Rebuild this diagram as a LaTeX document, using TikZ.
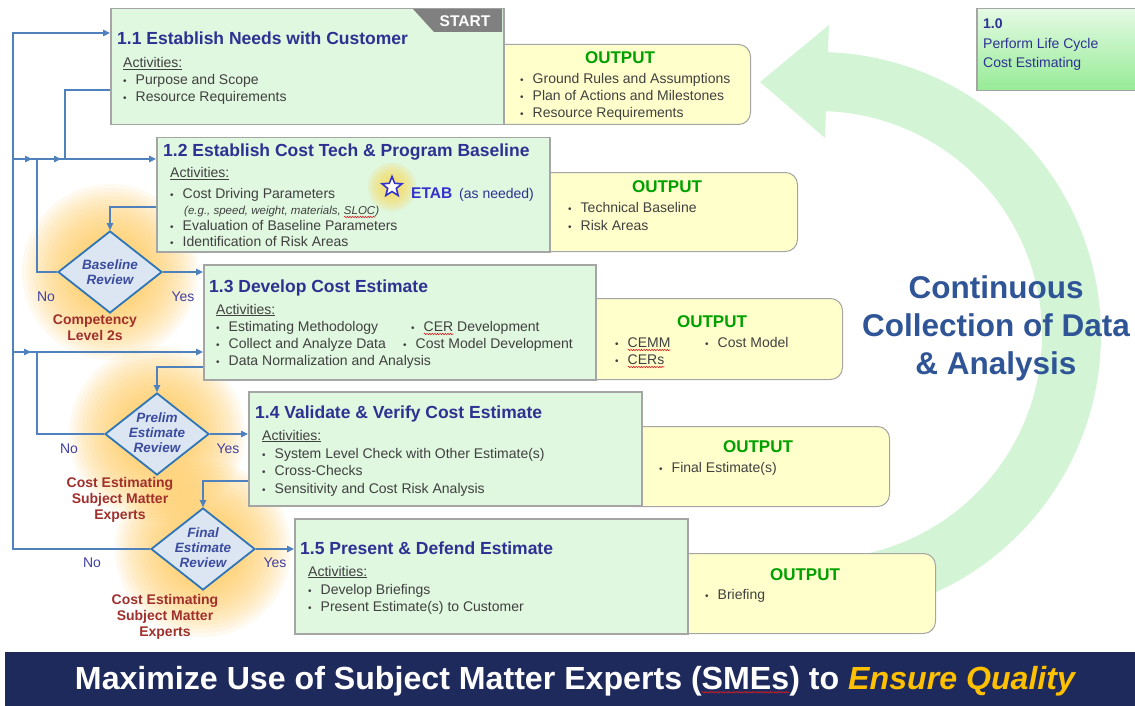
\documentclass[tikz,border=0pt]{standalone}
\usepackage{fontspec}
\setmainfont{Liberation Sans}
\usepackage{graphicx}
\usetikzlibrary{shapes.geometric,arrows.meta,calc,decorations.pathmorphing}
\definecolor{boxfill}{RGB}{224,247,224}
\definecolor{boxline}{RGB}{165,165,165}
\definecolor{outfill}{RGB}{255,255,204}
\definecolor{ttl}{RGB}{46,49,146}
\definecolor{bodyc}{RGB}{64,64,64}
\definecolor{outg}{RGB}{0,160,0}
\definecolor{flowc}{RGB}{79,129,189}
\definecolor{diafill}{RGB}{220,230,242}
\definecolor{diaedge}{RGB}{46,117,182}
\definecolor{diatc}{RGB}{59,76,160}
\definecolor{redc}{RGB}{160,48,44}
\definecolor{ync}{RGB}{64,64,160}
\definecolor{bandc}{RGB}{211,245,214}
\definecolor{navyc}{RGB}{31,42,92}
\definecolor{goldc}{RGB}{255,192,0}
\definecolor{contc}{RGB}{47,85,151}
\definecolor{glowc}{RGB}{255,196,80}
\definecolor{starg}{RGB}{255,215,70}
\definecolor{startc}{RGB}{128,128,128}
\definecolor{etabc}{RGB}{51,51,204}
\definecolor{topg}{RGB}{228,250,228}
\definecolor{botg}{RGB}{150,235,150}
\definecolor{spellc}{RGB}{220,30,30}
\newlength{\rwlen}
\newcommand{\redwave}[1]{\settowidth{\rwlen}{#1}\makebox[0pt][l]{#1}\tikz[baseline=0pt]{\useasboundingbox (0pt,0pt) rectangle (\rwlen,0.1pt);\draw[spellc, line width=0.6pt, decorate, decoration={snake, amplitude=0.7pt, segment length=2.6pt}] (0pt,-3pt) -- (\rwlen,-3pt);}}
\newcommand{\mybul}{{\fontsize{10}{10}\selectfont\textbullet}\hspace{9pt}}
\tikzset{
  stepbox/.style={draw=boxline, line width=1.5pt, fill=boxfill, anchor=north west, inner sep=0pt, minimum width=393pt},
  outbox/.style={draw=boxline, line width=1pt, fill=outfill, rounded corners=12pt, anchor=north west, inner sep=0pt, minimum height=80pt},
  ttlf/.style={anchor=base west, inner sep=0pt, text=ttl, font=\fontsize{17.5}{20}\selectfont\bfseries},
  txt/.style={anchor=base west, inner sep=0pt, text=bodyc, font=\fontsize{14}{16}\selectfont},
  outt/.style={anchor=base, inner sep=0pt, text=outg, font=\fontsize{17}{20}\selectfont\bfseries},
  dia/.style={diamond, draw=diaedge, fill=diafill, line width=1.8pt, minimum width=104pt, minimum height=82pt, inner sep=0pt},
  diat/.style={align=center, inner sep=0pt, text=diatc, font=\fontsize{13.5}{15}\selectfont\bfseries\itshape},
  sme/.style={align=center, inner sep=0pt, text=redc, font=\fontsize{14}{16}\selectfont\bfseries},
  yn/.style={inner sep=0pt, text=ync, font=\fontsize{14}{16}\selectfont},
  flow/.style={draw=flowc, line width=1.2pt},
  arr/.style={-{Triangle[length=7pt,width=6.5pt]}},
}
\begin{document}
\begin{tikzpicture}[x=1pt,y=-1pt]
\useasboundingbox (0,0) rectangle (1135,706);
% glows
\foreach \cx/\cy in {110/272,157/434,203/549}{
  \foreach \r in {88,84,...,32}{
    \fill[glowc, opacity=0.085] (\cx,\cy) circle[radius=\r];
  }
}
% continuous band
\fill[bandc] plot[domain=-88:88,samples=90] ({818+283*cos(\x)},{335-283*sin(\x)})
  -- (829,25) -- (760,82) -- (825,138)
  -- plot[domain=88:-88,samples=90] ({818+224*cos(\x)},{335-224*sin(\x)}) -- cycle;
\node[align=center, inner sep=0pt, text=contc, font=\fontsize{31.5}{38}\selectfont\bfseries] (cont) at (996,328) {Continuous\\Collection of Data\\\& Analysis};
% 1.0 box
\node[draw=boxline, line width=1.5pt, top color=topg, bottom color=botg, anchor=north west, minimum width=159pt, minimum height=82pt, inner sep=0pt] (b10) at (976,8) {};
\node[anchor=base west, inner sep=0pt, text=ttl, font=\fontsize{14}{16}\selectfont\bfseries] (t10a) at (983,29) {1.0};
\node[anchor=base west, inner sep=0pt, text=ttl, font=\fontsize{14}{16}\selectfont] (t10b) at (983,49) {Perform Life Cycle};
\node[anchor=base west, inner sep=0pt, text=ttl, font=\fontsize{14}{16}\selectfont] (t10c) at (983,68) {Cost Estimating};
% output boxes
\node[outbox, minimum width=270pt] (o1) at (480,44) {};
\node[outbox, minimum width=267pt, minimum height=79pt] (o2) at (530,172) {};
\node[outbox, minimum width=267pt, minimum height=81pt] (o3) at (575,298) {};
\node[outbox, minimum width=269pt] (o4) at (620,426) {};
\node[outbox, minimum width=270pt] (o5) at (665,553) {};
% step boxes
\node[stepbox, minimum height=116pt] (b11) at (110,8) {};
\node[stepbox, minimum height=114pt] (b12) at (156,137) {};
\node[stepbox, minimum width=392pt, minimum height=115pt] (b13) at (203,264) {};
\node[stepbox, minimum height=114pt] (b14) at (248,391) {};
\node[stepbox, minimum height=115pt] (b15) at (294,518) {};
% START tab
\fill[startc] (413,9) -- (502,9) -- (502,32) -- (434,32) -- cycle;
\node[inner sep=0pt, text=white, font=\fontsize{15.5}{18}\selectfont\bfseries] (start) at (465,21) {START};
% 1.1
\node[ttlf] (t11) at (117,45) {1.1 Establish Needs with Customer};
\node[txt] (a11) at (123,68) {\underline{Activities:}};
\node[txt] (r11a) at (123,85) {\mybul Purpose and Scope};
\node[txt] (r11b) at (123,102) {\mybul Resource Requirements};
\node[outt] (ot1) at (620,64) {OUTPUT};
\node[txt] (p1a) at (520,84) {\mybul Ground Rules and Assumptions};
\node[txt] (p1b) at (520,101) {\mybul Plan of Actions and Milestones};
\node[txt] (p1c) at (520,118) {\mybul Resource Requirements};
% 1.2
\node[ttlf] (t12) at (163,157) {1.2 Establish Cost Tech \& Program Baseline};
\node[txt] (a12) at (170,178) {\underline{Activities:}};
\node[txt] (r12a) at (170,198) {\mybul Cost Driving Parameters};
\node[txt, font=\fontsize{11.5}{13}\selectfont\itshape] (r12b) at (184,214) {(e.g., speed, weight, materials, \redwave{SLOC})};
\node[txt] (r12c) at (170,230) {\mybul Evaluation of Baseline Parameters};
\node[txt] (r12d) at (170,246) {\mybul Identification of Risk Areas};
\foreach \r in {24,21,...,9}{
  \fill[starg, opacity=0.16] (392,187) circle[radius=\r];
}
\node[star, star points=5, star point ratio=2.3, draw=etabc, fill=white, line width=1.6pt, minimum size=21pt, inner sep=0pt] (star) at (392,187) {};
\node[anchor=base west, inner sep=0pt, text=etabc, font=\fontsize{15.5}{18}\selectfont\bfseries] (etab) at (411,198) {ETAB};
\node[anchor=base west, inner sep=0pt, text=ttl, font=\fontsize{14}{16}\selectfont] (asn) at (459,198) {(as needed)};
\node[outt] (ot2) at (667,192) {OUTPUT};
\node[txt] (p2a) at (568,212) {\mybul Technical Baseline};
\node[txt] (p2b) at (568,230) {\mybul Risk Areas};
% 1.3
\node[ttlf] (t13) at (209,292) {1.3 Develop Cost Estimate};
\node[txt] (a13) at (216,314) {\underline{Activities:}};
\node[txt] (r13a) at (216,331) {\mybul Estimating Methodology};
\node[txt] (r13b) at (411,331) {\mybul \redwave{CER} Development};
\node[txt] (r13c) at (216,348) {\mybul Collect and Analyze Data};
\node[txt] (r13d) at (403,348) {\mybul Cost Model Development};
\node[txt] (r13e) at (216,365) {\mybul Data Normalization and Analysis};
\node[outt] (ot3) at (712,327) {OUTPUT};
\node[txt] (p3a) at (615,347) {\mybul \redwave{CEMM}};
\node[txt] (p3b) at (705,347) {\mybul Cost Model};
\node[txt] (p3c) at (615,364) {\mybul \redwave{CERs}};
% 1.4
\node[ttlf] (t14) at (255,418) {1.4 Validate \& Verify Cost Estimate};
\node[txt] (a14) at (262,440) {\underline{Activities:}};
\node[txt] (r14a) at (262,458) {\mybul System Level Check with Other Estimate(s)};
\node[txt] (r14b) at (262,475) {\mybul Cross-Checks};
\node[txt] (r14c) at (262,493) {\mybul Sensitivity and Cost Risk Analysis};
\node[outt] (ot4) at (758,452) {OUTPUT};
\node[txt] (p4a) at (659,472) {\mybul Final Estimate(s)};
% 1.5
\node[ttlf] (t15) at (300,554) {1.5 Present \& Defend Estimate};
\node[txt] (a15) at (308,576) {\underline{Activities:}};
\node[txt] (r15a) at (308,594) {\mybul Develop Briefings};
\node[txt] (r15b) at (308,611) {\mybul Present Estimate(s) to Customer};
\node[outt] (ot5) at (805,580) {OUTPUT};
\node[txt] (p5a) at (705,599) {\mybul Briefing};
% diamonds
\node[dia] (d1) at (110,272) {};
\node[dia] (d2) at (157,434) {};
\node[dia] (d3) at (203,549) {};
\node[diat] (d1t) at (110,272) {Baseline\\Review};
\node[diat] (d2t) at (157,433) {Prelim\\Estimate\\Review};
\node[diat] (d3t) at (203,548) {Final\\Estimate\\Review};
\node[yn] (no1) at (46,297) {No};
\node[yn] (yes1) at (183,297) {Yes};
\node[yn] (no2) at (69,449) {No};
\node[yn] (yes2) at (228,449) {Yes};
\node[yn] (no3) at (92,563) {No};
\node[yn] (yes3) at (275,563) {Yes};
\node[sme] (s1) at (95,328) {Competency\\Level 2s};
\node[sme] (s2) at (120,500) {Cost Estimating\\Subject Matter\\Experts};
\node[sme] (s3) at (165,617) {Cost Estimating\\Subject Matter\\Experts};
% connector points
\coordinate (in11) at (110,33);
\coordinate (out11) at (110,90);
\coordinate (in12) at (156,159);
\coordinate (out12) at (156,207);
\coordinate (in13) at (203,352);
\coordinate (out13) at (203,367);
\coordinate (out14) at (248,481);
% connectors
\draw[flow,arr] (d3.west) -- (13,549) -- (13,33) -- (in11);
\draw[flow,arr] (13,159) -- (in12);
\draw[flow,arr] (13,159) -- (32,159);
\draw[flow,arr] (37,159) -- (61,159);
\draw[flow,arr] (13,352) -- (in13);
\draw[flow,arr] (13,352) -- (31,352);
\draw[flow] (d1.west) -- (37,272) -- (37,159);
\draw[flow] (d2.west) -- (37,434) -- (37,352);
\draw[flow] (out11) -- (65,90) -- (65,159);
\draw[flow,arr] (out12) -- (110,207) -- (d1.north);
\draw[flow,arr] (out13) -- (157,367) -- (d2.north);
\draw[flow,arr] (out14) -- (203,481) -- (d3.north);
\draw[flow,arr] (d1.east) -- (d1.east -| b13.west);
\draw[flow,arr] (d2.east) -- (d2.east -| b14.west);
\draw[flow,arr] (d3.east) -- (d3.east -| b15.west);
% banner
\fill[navyc] (5,652) rectangle (1135,706);
\node[inner sep=0pt, text=white, font=\fontsize{32}{38}\selectfont\bfseries] (ban) at (575,681) {\resizebox{1000pt}{\height}{Maximize Use of Subject Matter Experts (\redwave{SMEs}) to \textcolor{goldc}{\itshape Ensure Quality}}};
\end{tikzpicture}
\end{document}
